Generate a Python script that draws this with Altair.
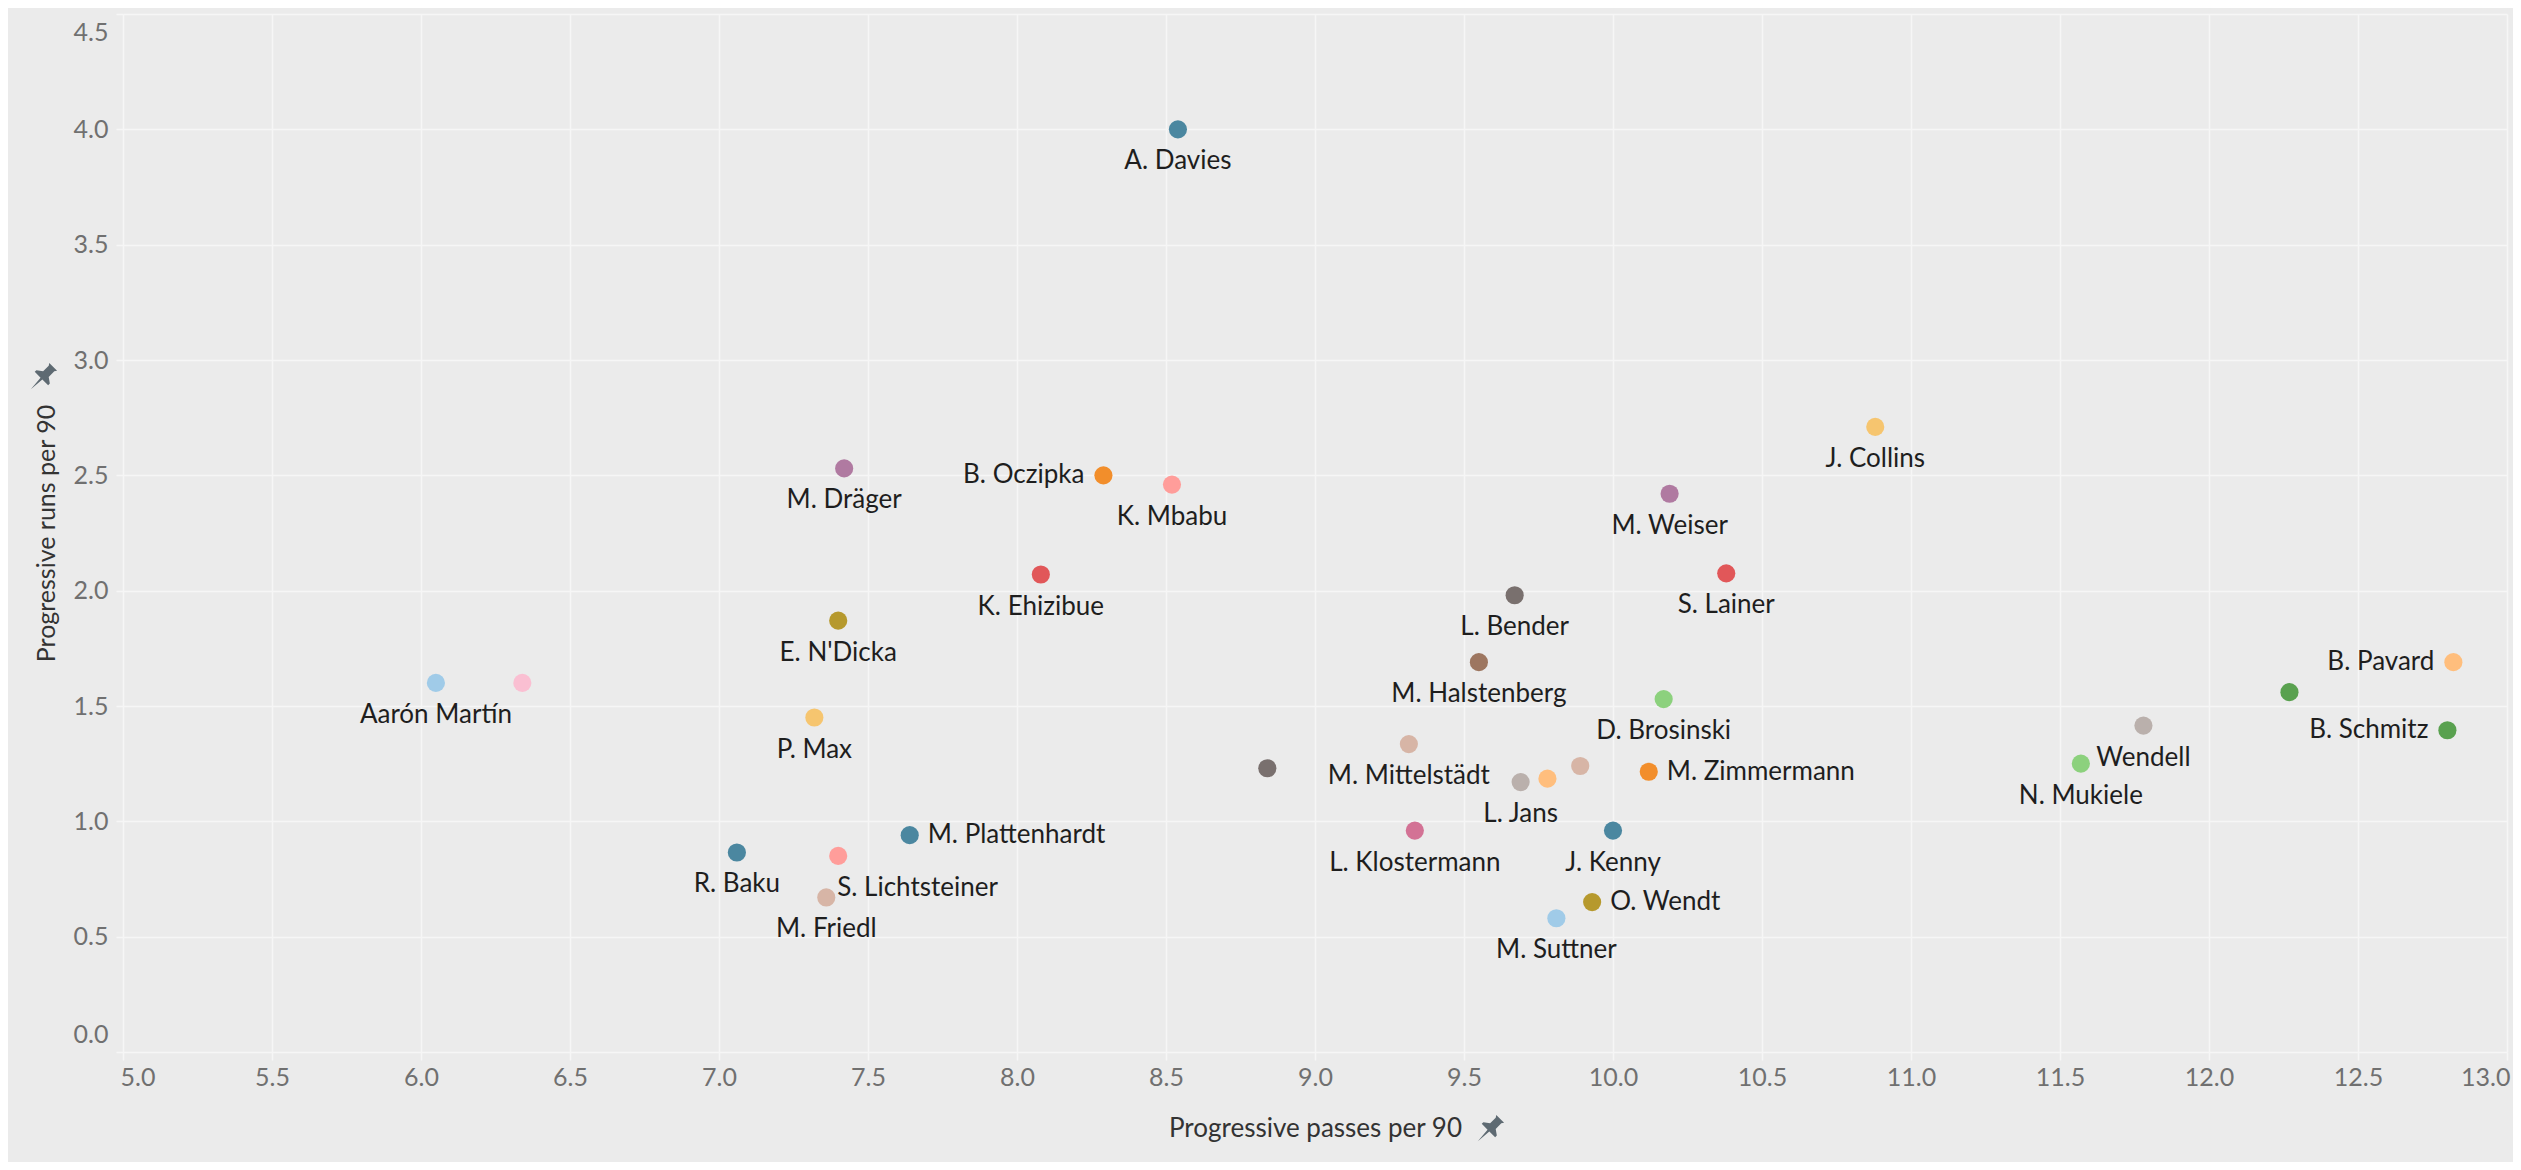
import altair as alt
import pandas as pd

# ---- data ----
players = [
    "A. Davies", "M. Dräger", "B. Oczipka", "K. Mbabu", "K. Ehizibue", "L. Bender",
    "E. N'Dicka", "M. Halstenberg", "P. Max", "Aarón Martín", "", "",
    "M. Mittelstädt", "L. Jans", "", "", "M. Zimmermann", "D. Brosinski",
    "L. Klostermann", "J. Kenny", "O. Wendt", "M. Suttner", "M. Plattenhardt", "R. Baku",
    "S. Lichtsteiner", "M. Friedl", "J. Collins", "M. Weiser", "S. Lainer", "B. Pavard",
    "", "B. Schmitz", "Wendell", "N. Mukiele",
]
prog_passes = [
    8.54, 7.42, 8.29, 8.52, 8.08, 9.67,
    7.40, 9.55, 7.32, 6.05, 6.34, 8.84,
    9.315, 9.69, 9.78, 9.89, 10.12, 10.17,
    9.335, 10.00, 9.93, 9.81, 7.64, 7.06,
    7.40, 7.36, 10.88, 10.19, 10.38, 12.82,
    12.27, 12.80, 11.78, 11.57,
]
prog_runs = [
    4.00, 2.53, 2.50, 2.46, 2.07, 1.98,
    1.87, 1.69, 1.45, 1.60, 1.60, 1.23,
    1.335, 1.17, 1.185, 1.24, 1.215, 1.53,
    0.96, 0.96, 0.65, 0.58, 0.94, 0.865,
    0.85, 0.67, 2.71, 2.42, 2.075, 1.69,
    1.56, 1.395, 1.415, 1.25,
]
x_ticks = [5.0, 5.5, 6.0, 6.5, 7.0, 7.5, 8.0, 8.5, 9.0, 9.5, 10.0, 10.5, 11.0, 11.5, 12.0, 12.5, 13.0]
y_ticks = [0.0, 0.5, 1.0, 1.5, 2.0, 2.5, 3.0, 3.5, 4.0, 4.5]

# label placement groups
labels_left = ["B. Oczipka", "B. Pavard", "B. Schmitz"]
labels_right = ["M. Plattenhardt", "M. Zimmermann", "O. Wendt"]
labels_below_right = ["S. Lichtsteiner"]

# point colours (one per point, same order)
point_colors = [
    "#4B87A0", "#B07AA1", "#F28E2B", "#FF9D9A", "#E15759", "#79706E",
    "#B6992D", "#9D7660", "#F6C56F", "#A0CBE8", "#FABFD2", "#79706E",
    "#D7B5A6", "#BAB0AC", "#FFBE7D", "#D7B5A6", "#F28E2B", "#8CD17D",
    "#D37295", "#4B87A0", "#B6992D", "#A0CBE8", "#4B87A0", "#4B87A0",
    "#FF9D9A", "#D7B5A6", "#F6C56F", "#B07AA1", "#E15759", "#FFBE7D",
    "#59A14F", "#59A14F", "#BAB0AC", "#8CD17D",
]

ids = [f"p{i}" for i in range(len(players))]


def placement(name):
    if name == "":
        return "none"
    if name in labels_left:
        return "left"
    if name in labels_right:
        return "right"
    if name in labels_below_right:
        return "below_right"
    return "below"


df = pd.DataFrame({
    "id": ids,
    "player": players,
    "passes": prog_passes,
    "runs": prog_runs,
    "placement": [placement(n) for n in players],
})

BG = "#EBEBEB"
GRID = "#F6F6F6"
FONT = "Lato"

x_enc = alt.X(
    "passes:Q",
    scale=alt.Scale(domain=[5, 13], nice=False, zero=False),
    axis=alt.Axis(
        values=x_ticks, format=".1f", grid=True, gridColor=GRID, gridWidth=1.5,
        tickColor=GRID, tickSize=8, tickWidth=1.5, domain=False,
        labelFont=FONT, labelFontSize=25, labelColor="#707070", labelPadding=5,
        labelFlush=True, labelFlushOffset=3,
        title="Progressive passes per 90", titleFont=FONT, titleFontSize=26,
        titleFontWeight="normal", titleColor="#333333", titlePadding=25,
    ),
)
y_enc = alt.Y(
    "runs:Q",
    scale=alt.Scale(domain=[0, 4.5], nice=False, zero=False),
    axis=alt.Axis(
        values=y_ticks, format=".1f", grid=True, gridColor=GRID, gridWidth=1.5,
        tickColor=GRID, tickSize=7, tickWidth=1.5, domain=False,
        labelFont=FONT, labelFontSize=25, labelColor="#707070", labelPadding=8,
        labelFlush=False,
        labelBaseline={
            "condition": [
                {"test": "datum.value >= 4.5", "value": "top"},
                {"test": "datum.value <= 0", "value": "bottom"},
            ],
            "value": "middle",
        },
        labelOffset={
            "condition": [
                {"test": "datum.value >= 4.5", "value": 6},
                {"test": "datum.value <= 0", "value": -5},
            ],
            "value": 0,
        },
        title="Progressive runs per 90", titleFont=FONT, titleFontSize=25,
        titleFontWeight="normal", titleColor="#333333", titlePadding=14,
    ),
)

base = alt.Chart(df)

points = base.mark_circle(size=330, opacity=1).encode(
    x=x_enc,
    y=y_enc,
    color=alt.Color("id:N", scale=alt.Scale(domain=ids, range=point_colors), legend=None),
)

txt = dict(font=FONT, fontSize=26, color="#1E1E1E")

lab_below = base.transform_filter(
    alt.FieldOneOfPredicate(field="placement", oneOf=["below"])
).mark_text(align="center", baseline="middle", dy=32, **txt).encode(
    x="passes:Q", y="runs:Q", text="player:N"
)
lab_left = base.transform_filter(
    alt.FieldOneOfPredicate(field="placement", oneOf=["left"])
).mark_text(align="right", baseline="middle", dx=-19, **txt).encode(
    x="passes:Q", y="runs:Q", text="player:N"
)
lab_right = base.transform_filter(
    alt.FieldOneOfPredicate(field="placement", oneOf=["right"])
).mark_text(align="left", baseline="middle", dx=18, **txt).encode(
    x="passes:Q", y="runs:Q", text="player:N"
)
lab_below_right = base.transform_filter(
    alt.FieldOneOfPredicate(field="placement", oneOf=["below_right"])
).mark_text(align="left", baseline="middle", dx=-1, dy=32, **txt).encode(
    x="passes:Q", y="runs:Q", text="player:N"
)

# push-pin icons beside the axis titles
PIN = ("M-0.35,-1 L0.35,-1 L0.25,-0.85 L0.25,-0.35 L0.6,-0.1 L0.6,0.05 "
       "L0.08,0.05 L0,1 L-0.08,0.05 L-0.6,0.05 L-0.6,-0.1 L-0.25,-0.35 L-0.25,-0.85 Z")
pin_df = pd.DataFrame({"k": [0]})
pin_x = alt.Chart(pin_df).mark_point(
    shape=PIN, filled=True, size=1000, angle=45, color="#5E6A72", opacity=1
).encode(x=alt.value(1366), y=alt.value(1116))
pin_y = alt.Chart(pin_df).mark_point(
    shape=PIN, filled=True, size=1000, angle=45, color="#5E6A72", opacity=1
).encode(x=alt.value(-81), y=alt.value(364))

chart = alt.layer(
    points, lab_below, lab_left, lab_right, lab_below_right, pin_x, pin_y
).properties(
    width=2384,
    height=1038,
    background=BG,
    padding={"left": 115, "top": 6, "right": 6, "bottom": 110},
    autosize=alt.AutoSizeParams(type="none"),
).configure_view(stroke=None, fill=BG)

chart.save("out.html", embed_options={"renderer": "svg", "actions": False})
